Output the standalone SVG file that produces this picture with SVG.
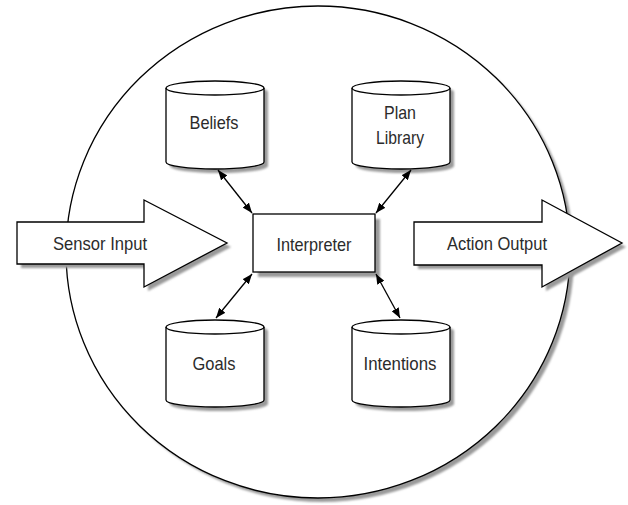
<svg xmlns="http://www.w3.org/2000/svg" width="628" height="505" viewBox="0 0 628 505">
  <style>
    .shape { fill: #ffffff; stroke: #000000; stroke-width: 1.3; }
    .rim { fill: none; stroke: #000000; stroke-width: 1.3; }
    .shadow { fill: #9a9a9a; stroke: none; filter: url(#soft); }
    .label { font-family: "Liberation Sans", Arial, sans-serif; font-size: 18.5px; fill: #2b2b2b; text-anchor: middle; }
    .link { stroke: #000000; stroke-width: 1.3; fill: none; marker-start: url(#head); marker-end: url(#head); }
  </style>
  <defs>
    <filter id="soft" x="-10%" y="-10%" width="120%" height="120%">
      <feGaussianBlur stdDeviation="1.2"/>
    </filter>
    <marker id="head" viewBox="0 0 10 8" refX="10" refY="4" markerWidth="10" markerHeight="8" markerUnits="userSpaceOnUse" orient="auto-start-reverse">
      <path d="M0,0 L10,4 L0,8 Z" fill="#000000"/>
    </marker>
  </defs>

  <rect width="628" height="505" fill="#ffffff"/>

  <!-- agent boundary -->
  <g id="agent">
    <ellipse class="shadow" cx="322" cy="256" rx="252" ry="246"/>
    <ellipse class="shape" cx="318" cy="252" rx="252" ry="246"/>
  </g>

  <!-- data stores -->
  <g id="beliefs">
    <path class="shadow" d="M170,92 A49,7 0 0 1 268,92 L268,166 A49,7 0 0 1 170,166 Z"/>
    <path class="shape" d="M166,88 A49,7 0 0 1 264,88 L264,162 A49,7 0 0 1 166,162 Z"/>
    <path class="rim" d="M166,88 A49,7 0 0 0 264,88"/>
    <text class="label" x="214" y="129" textLength="49" lengthAdjust="spacingAndGlyphs">Beliefs</text>
  </g>

  <g id="plan-library">
    <path class="shadow" d="M356,92 A49,7 0 0 1 454,92 L454,166 A49,7 0 0 1 356,166 Z"/>
    <path class="shape" d="M352,88 A49,7 0 0 1 450,88 L450,162 A49,7 0 0 1 352,162 Z"/>
    <path class="rim" d="M352,88 A49,7 0 0 0 450,88"/>
    <text class="label" x="400" y="119" textLength="32" lengthAdjust="spacingAndGlyphs">Plan</text>
    <text class="label" x="400" y="144" textLength="48" lengthAdjust="spacingAndGlyphs">Library</text>
  </g>

  <g id="goals">
    <path class="shadow" d="M170,331 A49,7 0 0 1 268,331 L268,404 A49,7 0 0 1 170,404 Z"/>
    <path class="shape" d="M166,327 A49,7 0 0 1 264,327 L264,400 A49,7 0 0 1 166,400 Z"/>
    <path class="rim" d="M166,327 A49,7 0 0 0 264,327"/>
    <text class="label" x="214" y="370" textLength="43" lengthAdjust="spacingAndGlyphs">Goals</text>
  </g>

  <g id="intentions">
    <path class="shadow" d="M356,331 A49,7 0 0 1 454,331 L454,404 A49,7 0 0 1 356,404 Z"/>
    <path class="shape" d="M352,327 A49,7 0 0 1 450,327 L450,400 A49,7 0 0 1 352,400 Z"/>
    <path class="rim" d="M352,327 A49,7 0 0 0 450,327"/>
    <text class="label" x="400" y="370" textLength="73" lengthAdjust="spacingAndGlyphs">Intentions</text>
  </g>

  <!-- central interpreter -->
  <g id="interpreter">
    <rect class="shadow" x="258" y="219" width="122" height="58"/>
    <rect class="shape" x="253" y="214" width="122" height="58" stroke-width="2.5"/>
    <text class="label" x="314" y="251" textLength="75" lengthAdjust="spacingAndGlyphs">Interpreter</text>
  </g>

  <!-- input and output arrows -->
  <g id="sensor-input">
    <path class="shadow" d="M21,226 L148,226 L148,204 L231,247 L148,291 L148,268 L21,268 Z"/>
    <path class="shape" d="M17,222 L144,222 L144,200 L227,243 L144,287 L144,264 L17,264 Z"/>
    <text class="label" x="100" y="250" textLength="94" lengthAdjust="spacingAndGlyphs">Sensor Input</text>
  </g>

  <g id="action-output">
    <path class="shadow" d="M418,226 L546,226 L546,204 L626,247 L546,291 L546,269 L418,269 Z"/>
    <path class="shape" d="M414,222 L542,222 L542,200 L622,243 L542,287 L542,265 L414,265 Z"/>
    <text class="label" x="497" y="250" textLength="100" lengthAdjust="spacingAndGlyphs">Action Output</text>
  </g>

  <!-- two-way links between the stores and the interpreter -->
  <g id="connectors">
    <line class="link" x1="218" y1="170" x2="252" y2="213"/>
    <line class="link" x1="411" y1="170" x2="376" y2="213"/>
    <line class="link" x1="252" y1="274" x2="216" y2="318"/>
    <line class="link" x1="376" y1="274" x2="400" y2="318"/>
  </g>
</svg>
